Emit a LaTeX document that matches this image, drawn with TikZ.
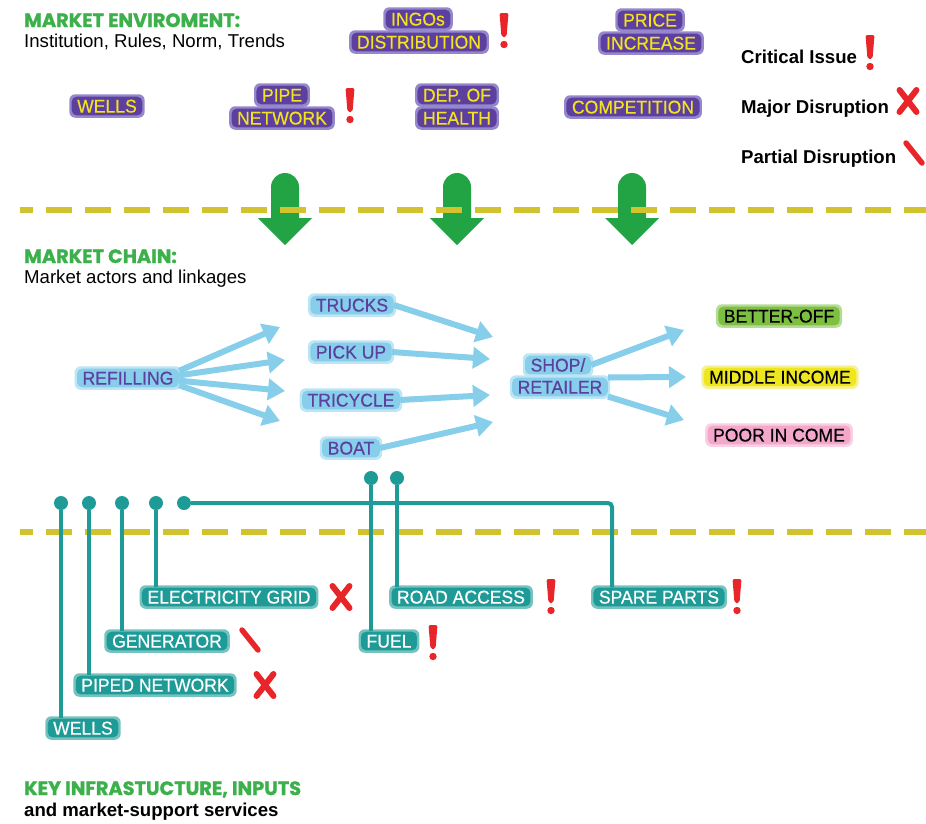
\documentclass[tikz,border=0pt]{standalone}
\usepackage{fontspec}
\setmainfont{Liberation Sans}
\newfontfamily\headfont{Poppins}[BoldFeatures={FakeBold=1.2}]
\newfontfamily\boxfont{Liberation Sans}[FakeStretch=0.95, FakeBold=0.4]
\usetikzlibrary{arrows.meta, backgrounds}
\definecolor{PurpleFill}{HTML}{5C3F9E}
\definecolor{PurpleGlow}{HTML}{9487CC}
\definecolor{YellowText}{HTML}{F2E31E}
\definecolor{SkyFill}{HTML}{86CEEA}
\definecolor{SkyGlow}{HTML}{BDE5F5}
\definecolor{TealFill}{HTML}{1E9B97}
\definecolor{TealGlow}{HTML}{74C3BF}
\definecolor{LeafFill}{HTML}{7CBF41}
\definecolor{LeafGlow}{HTML}{B5DC95}
\definecolor{LemonFill}{HTML}{EEE61E}
\definecolor{LemonGlow}{HTML}{F6F192}
\definecolor{RoseFill}{HTML}{F3A8CB}
\definecolor{RoseGlow}{HTML}{F8D0E2}
\definecolor{ArrowGreen}{HTML}{22A444}
\definecolor{HeadGreen}{HTML}{3CB04A}
\definecolor{DashYellow}{HTML}{D2C22E}
\definecolor{MarkRed}{HTML}{E8262A}
\tikzset{
  lbl/.style={rounded corners=5pt, inner xsep=5.5pt, inner ysep=2.5pt,
    text height=13.4pt, text depth=0.3pt, font=\boxfont\fontsize{18.5}{18.5}\selectfont},
  pbox/.style={lbl, fill=PurpleFill, text=YellowText},
  bbox/.style={lbl, fill=SkyFill, text=PurpleFill},
  tbox/.style={lbl, fill=TealFill, text=white},
  obox/.style={lbl, text=black},
  glow/.style={rounded corners=6pt},
  head/.style={anchor=base west, inner sep=0pt, text=HeadGreen,
    font=\headfont\bfseries\fontsize{19.3}{19.3}\selectfont},
  sub/.style={anchor=base west, inner sep=0pt, font=\fontsize{18.6}{18.6}\selectfont},
  legend/.style={anchor=base west, inner sep=0pt, font=\bfseries\fontsize{18.6}{18.6}\selectfont},
  ydash/.style={draw=DashYellow, line width=6pt, dash pattern=on 26pt off 13pt, dash phase=13pt},
  barrow/.style={draw=SkyFill, line width=6pt, -{Triangle[length=17pt, width=21pt]}},
  tline/.style={draw=TealFill, line width=4pt, rounded corners=4pt},
  tdot/.style={circle, fill=TealFill, minimum size=14pt, inner sep=0pt},
  critical/.pic={
    \fill[MarkRed, rounded corners=2pt] (-4.5pt,18pt) -- (4.5pt,18pt) -- (2.5pt,-6pt) -- (-2.5pt,-6pt) -- cycle;
    \fill[MarkRed] (0,-13.5pt) circle (3.7pt);},
  major/.pic={
    \draw[MarkRed, line width=6pt, line cap=round] (-8.5pt,11pt) -- (8.5pt,-11pt) (8.5pt,11pt) -- (-8.5pt,-11pt);},
  partial/.pic={
    \draw[MarkRed, line width=5.5pt, line cap=round] (-8pt,10pt) -- (8pt,-10pt);},
  godown/.pic={
    \fill[ArrowGreen] (-14pt,-14pt) arc[start angle=180, end angle=0, radius=14pt]
      -- (14pt,-45pt) -- (27pt,-45pt) -- (0,-72pt) -- (-27pt,-45pt) -- (-14pt,-45pt) -- cycle;},
}

\begin{document}
\begin{tikzpicture}[x=1pt, y=-1pt]
  \useasboundingbox (0,0) rectangle (926,823);

  % market environment
  \node[head] (envHead) at (24,27) {MARKET ENVIROMENT:};
  \node[sub] (envSub) at (24,47) {Institution, Rules, Norm, Trends};
  \node[pbox] (ingosA) at (418,19) {INGOs};
  \node[pbox] (ingosB) at (419,42) {DISTRIBUTION};
  \node[pbox] (priceA) at (650,20) {PRICE};
  \node[pbox] (priceB) at (651,43) {INCREASE};
  \node[pbox] (wells) at (107,106) {WELLS};
  \node[pbox] (pipeA) at (282,95) {PIPE};
  \node[pbox] (pipeB) at (282,118) {NETWORK};
  \node[pbox] (depA) at (457,95) {DEP. OF};
  \node[pbox] (depB) at (457,118) {HEALTH};
  \node[pbox] (compet) at (633,107) {COMPETITION};
  \pic at (504,31) {critical};
  \pic at (350,106) {critical};

  \node[legend] (critLbl) at (741,63) {Critical Issue};
  \node[legend] (majorLbl) at (741,113) {Major Disruption};
  \node[legend] (partialLbl) at (741,163) {Partial Disruption};
  \pic at (870,53) {critical};
  \pic at (908,101) {major};
  \pic at (914,153) {partial};

  \pic at (285,173) {godown};
  \pic at (457,173) {godown};
  \pic at (632,173) {godown};
  \draw[ydash] (20,210) -- (926,210);

  % market chain
  \node[head] (chainHead) at (24,263) {MARKET CHAIN:};
  \node[sub] (chainSub) at (24,283) {Market actors and linkages};
  \node[bbox] (refill) at (128,378) {REFILLING};
  \node[bbox] (trucks) at (352,305) {TRUCKS};
  \node[bbox] (pickup) at (351,352) {PICK UP};
  \node[bbox] (tricycle) at (351,400) {TRICYCLE};
  \node[bbox] (boat) at (351,448) {BOAT};
  \node[bbox] (shopA) at (558,365) {SHOP/};
  \node[bbox] (shopB) at (560,387) {RETAILER};
  \node[obox, fill=LeafFill] (better) at (779,316) {BETTER-OFF};
  \node[obox, fill=LemonFill] (middle) at (780,377) {MIDDLE INCOME};
  \node[obox, fill=RoseFill] (poor) at (779,435) {POOR IN COME};

  \coordinate (r1) at (280,327);
  \coordinate (r2) at (285,360);
  \coordinate (r3) at (285,391);
  \coordinate (r4) at (280,421);
  \coordinate (t1) at (493,337);
  \coordinate (t2) at (490,359);
  \coordinate (t3) at (490,395);
  \coordinate (t4) at (493,422);
  \coordinate (s1) at (684,330);
  \coordinate (s2) at (686,377);
  \coordinate (s3) at (684,420);
  \draw[barrow] (refill.8) -- (r1);
  \draw[barrow] (refill.3) -- (r2);
  \draw[barrow] (refill.-3) -- (r3);
  \draw[barrow] (refill.-8) -- (r4);
  \draw[barrow] (trucks.east) -- (t1);
  \draw[barrow] (pickup.east) -- (t2);
  \draw[barrow] (tricycle.east) -- (t3);
  \draw[barrow] (boat.east) -- (t4);
  \draw[barrow] (shopA.east) -- (s1);
  \draw[barrow] (shopB.north east) -- (s2);
  \draw[barrow] (shopB.south east) -- (s3);

  % infrastructure
  \draw[ydash] (20,532) -- (926,532);
  \node[tdot] (d1) at (61,503) {};
  \node[tdot] (d2) at (89,503) {};
  \node[tdot] (d3) at (122,503) {};
  \node[tdot] (d4) at (156,503) {};
  \node[tdot] (d5) at (184,503) {};
  \node[tdot] (d6) at (371,478) {};
  \node[tdot] (d7) at (397,478) {};
  \node[tbox] (elec) at (229,597) {ELECTRICITY GRID};
  \node[tbox] (gen) at (167,641) {GENERATOR};
  \node[tbox] (piped) at (155,685) {PIPED NETWORK};
  \node[tbox] (wellsInfra) at (83,728) {WELLS};
  \node[tbox] (fuel) at (389,641) {FUEL};
  \node[tbox] (road) at (461,597) {ROAD ACCESS};
  \node[tbox] (spare) at (659,597) {SPARE PARTS};
  \coordinate (spareTurn) at (612,503);
  \draw[tline] (d1) -- (d1 |- wellsInfra.north);
  \draw[tline] (d2) -- (d2 |- piped.north);
  \draw[tline] (d3) -- (d3 |- gen.north);
  \draw[tline] (d4) -- (d4 |- elec.north);
  \draw[tline] (d5) -- (spareTurn) -- (spareTurn |- spare.north);
  \draw[tline] (d6) -- (d6 |- fuel.north);
  \draw[tline] (d7) -- (d7 |- road.north);
  \pic at (341,597) {major};
  \pic at (250,640) {partial};
  \pic at (265,685) {major};
  \pic at (433,643) {critical};
  \pic at (551,597) {critical};
  \pic at (737,597) {critical};

  \node[head] (infraHead) at (24,795) {KEY INFRASTUCTURE, INPUTS};
  \node[legend] (infraSub) at (24,816) {and market-support services};

  \begin{scope}[on background layer]
    \foreach \n in {ingosA, ingosB, priceA, priceB, wells, pipeA, pipeB, depA, depB, compet}
      \fill[PurpleGlow, glow] ([shift={(-2.2pt,2.2pt)}]\n.north west) rectangle ([shift={(2.2pt,-2.2pt)}]\n.south east);
    \foreach \n in {refill, trucks, pickup, tricycle, boat, shopA, shopB}
      \fill[SkyGlow, glow] ([shift={(-2.2pt,2.2pt)}]\n.north west) rectangle ([shift={(2.2pt,-2.2pt)}]\n.south east);
    \foreach \n in {elec, gen, piped, wellsInfra, fuel, road, spare}
      \fill[TealGlow, glow] ([shift={(-2.2pt,2.2pt)}]\n.north west) rectangle ([shift={(2.2pt,-2.2pt)}]\n.south east);
    \fill[LeafGlow, glow] ([shift={(-2.2pt,2.2pt)}]better.north west) rectangle ([shift={(2.2pt,-2.2pt)}]better.south east);
    \fill[LemonGlow, glow] ([shift={(-2.2pt,2.2pt)}]middle.north west) rectangle ([shift={(2.2pt,-2.2pt)}]middle.south east);
    \fill[RoseGlow, glow] ([shift={(-2.2pt,2.2pt)}]poor.north west) rectangle ([shift={(2.2pt,-2.2pt)}]poor.south east);
  \end{scope}
\end{tikzpicture}
\end{document}
